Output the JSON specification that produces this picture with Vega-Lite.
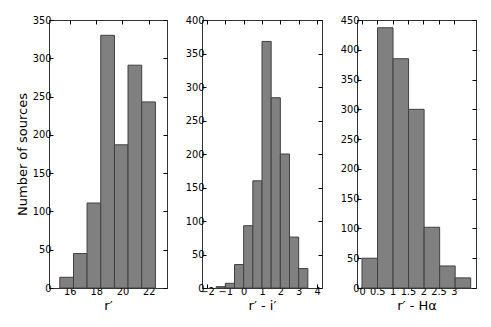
{
  "$schema": "https://vega.github.io/schema/vega-lite/v6.json",
  "padding": {"left": 15, "top": 14, "right": 5, "bottom": 5},
  "background": "white",
  "datasets": {
    "p1": [
      {"start": 15.24, "end": 16.28, "count": 14},
      {"start": 16.28, "end": 17.31, "count": 45},
      {"start": 17.31, "end": 18.35, "count": 111},
      {"start": 18.35, "end": 19.39, "count": 330},
      {"start": 19.39, "end": 20.42, "count": 187},
      {"start": 20.42, "end": 21.46, "count": 291},
      {"start": 21.46, "end": 22.5, "count": 243}
    ],
    "p2": [
      {"start": -1.5, "end": -1.0, "count": 2},
      {"start": -1.0, "end": -0.5, "count": 7},
      {"start": -0.5, "end": 0.0, "count": 35},
      {"start": 0.0, "end": 0.5, "count": 93},
      {"start": 0.5, "end": 1.0, "count": 160},
      {"start": 1.0, "end": 1.5, "count": 368},
      {"start": 1.5, "end": 2.0, "count": 284},
      {"start": 2.0, "end": 2.5, "count": 200},
      {"start": 2.5, "end": 3.0, "count": 76},
      {"start": 3.0, "end": 3.5, "count": 29}
    ],
    "p3": [
      {"start": 0.0, "end": 0.507, "count": 50},
      {"start": 0.507, "end": 1.014, "count": 437},
      {"start": 1.014, "end": 1.521, "count": 385},
      {"start": 1.521, "end": 2.029, "count": 300},
      {"start": 2.029, "end": 2.536, "count": 102},
      {"start": 2.536, "end": 3.043, "count": 37},
      {"start": 3.043, "end": 3.55, "count": 17}
    ]
  },
  "spacing": 16,
  "hconcat": [
    {
      "width": 118, "height": 268,
      "data": {"name": "p1"},
      "layer": [
        {
          "mark": {"type": "bar", "orient": "vertical", "fill": "#808080", "stroke": "#404040", "strokeWidth": 1},
          "encoding": {
            "x": {"field": "start", "type": "quantitative", "scale": {"domain": [14.8, 23], "nice": false, "zero": false}, "axis": {"values": [16, 18, 20, 22], "title": "r′", "orient": "bottom"}},
            "x2": {"field": "end"},
            "y": {"field": "count", "type": "quantitative", "scale": {"domain": [0, 350], "nice": false}, "axis": {"values": [0, 50, 100, 150, 200, 250, 300, 350], "title": "Number of sources", "orient": "left"}},
            "y2": {"datum": 0}
          }
        },
        {
          "mark": {"type": "bar", "orient": "vertical", "opacity": 0},
          "encoding": {
            "x": {"field": "start", "type": "quantitative", "axis": {"values": [16, 18, 20, 22], "title": null, "labels": false, "orient": "top"}},
            "x2": {"field": "end"},
            "y": {"field": "count", "type": "quantitative", "axis": {"values": [0, 50, 100, 150, 200, 250, 300, 350], "title": null, "labels": false, "orient": "right"}},
            "y2": {"datum": 0}
          }
        }
      ],
      "resolve": {"axis": {"x": "independent", "y": "independent"}}
    },
    {
      "width": 120, "height": 268,
      "data": {"name": "p2"},
      "layer": [
        {
          "mark": {"type": "bar", "orient": "vertical", "fill": "#808080", "stroke": "#404040", "strokeWidth": 1},
          "encoding": {
            "x": {"field": "start", "type": "quantitative", "scale": {"domain": [-2, 4], "nice": false, "zero": false}, "axis": {"values": [-2, -1, 0, 1, 2, 3, 4], "title": "r′ - i′", "orient": "bottom"}},
            "x2": {"field": "end"},
            "y": {"field": "count", "type": "quantitative", "scale": {"domain": [0, 400], "nice": false}, "axis": {"values": [0, 50, 100, 150, 200, 250, 300, 350, 400], "title": null, "orient": "left"}},
            "y2": {"datum": 0}
          }
        },
        {
          "mark": {"type": "bar", "orient": "vertical", "opacity": 0},
          "encoding": {
            "x": {"field": "start", "type": "quantitative", "axis": {"values": [-2, -1, 0, 1, 2, 3, 4], "title": null, "labels": false, "orient": "top"}},
            "x2": {"field": "end"},
            "y": {"field": "count", "type": "quantitative", "axis": {"values": [0, 50, 100, 150, 200, 250, 300, 350, 400], "title": null, "labels": false, "orient": "right"}},
            "y2": {"datum": 0}
          }
        }
      ],
      "resolve": {"axis": {"x": "independent", "y": "independent"}}
    },
    {
      "width": 119, "height": 268,
      "data": {"name": "p3"},
      "layer": [
        {
          "mark": {"type": "bar", "orient": "vertical", "fill": "#808080", "stroke": "#404040", "strokeWidth": 1},
          "encoding": {
            "x": {"field": "start", "type": "quantitative", "scale": {"domain": [0, 3.56], "nice": false, "zero": false}, "axis": {"values": [0, 0.5, 1, 1.5, 2, 2.5, 3], "title": "r′ - Hα", "orient": "bottom"}},
            "x2": {"field": "end"},
            "y": {"field": "count", "type": "quantitative", "scale": {"domain": [0, 450], "nice": false}, "axis": {"values": [0, 50, 100, 150, 200, 250, 300, 350, 400, 450], "title": null, "orient": "left"}},
            "y2": {"datum": 0}
          }
        },
        {
          "mark": {"type": "bar", "orient": "vertical", "opacity": 0},
          "encoding": {
            "x": {"field": "start", "type": "quantitative", "axis": {"values": [0, 0.5, 1, 1.5, 2, 2.5, 3], "title": null, "labels": false, "orient": "top"}},
            "x2": {"field": "end"},
            "y": {"field": "count", "type": "quantitative", "axis": {"values": [0, 50, 100, 150, 200, 250, 300, 350, 400, 450], "title": null, "labels": false, "orient": "right"}},
            "y2": {"datum": 0}
          }
        }
      ],
      "resolve": {"axis": {"x": "independent", "y": "independent"}}
    }
  ],
  "config": {
    "font": "DejaVu Sans",
    "view": {"stroke": "#333333", "strokeWidth": 1},
    "axis": {
      "domain": false,
      "grid": false,
      "tickSize": -4,
      "tickColor": "#000000",
      "labelFont": "DejaVu Sans",
      "labelFontSize": 9.8,
      "labelColor": "#000000",
      "labelPadding": 2,
      "labelOverlap": false,
      "labelFlush": false,
      "format": "~r",
      "titleFont": "DejaVu Sans",
      "titleFontSize": 13,
      "titleFontWeight": "normal",
      "titleColor": "#000000",
      "titlePadding": 4
    },
    "axisLeft": {"titlePadding": 3}
  }
}
